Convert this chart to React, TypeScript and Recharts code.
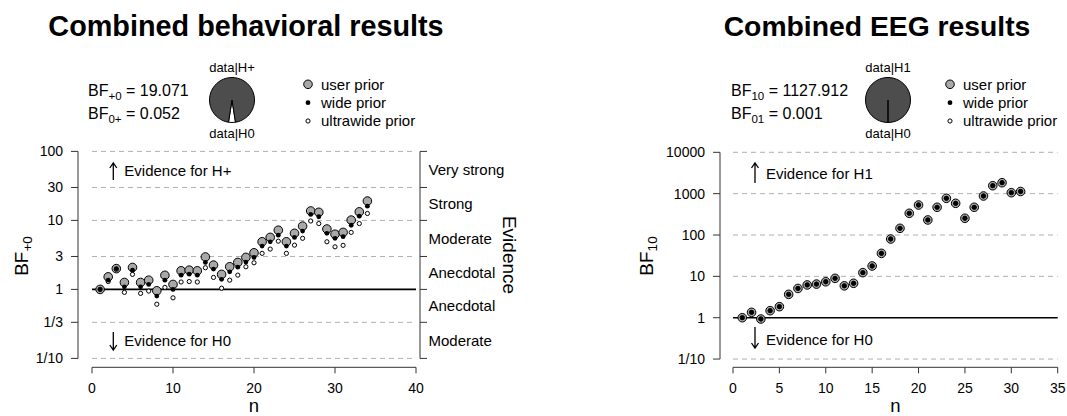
import React from 'react';
import { ScatterChart, Scatter, XAxis, YAxis, ReferenceLine, PieChart, Pie, Cell } from 'recharts';

const FONT = '"Liberation Sans", Arial, Helvetica, sans-serif';

// ---------- Combined behavioral results ----------
const behN = [1,2,3,4,5,6,7,8,9,10,11,12,13,14,15,16,17,18,19,20,21,22,23,24,25,26,27,28,29,30,31,32,33,34];
const behUser = [1.0,1.52,2.0,1.26,2.08,1.26,1.36,0.955,1.6,1.18,1.86,1.9,1.86,2.95,2.25,1.65,2.13,2.46,2.91,3.39,4.9,5.67,7.2,4.9,6.5,8.26,13.7,13.1,7.5,6.3,6.7,10.1,13.3,19.071];
const behWide = [1.0,1.36,2.0,1.09,1.9,1.09,1.18,0.8,1.36,1.0,1.61,1.66,1.61,2.46,1.97,1.4,1.8,2.1,2.49,2.91,4.25,4.9,6.1,4.25,5.67,7.0,12.2,11.3,6.5,5.5,5.8,8.5,11.5,16.1];
const behUltra = [1.0,1.3,1.95,0.905,1.65,0.875,0.945,0.61,1.07,0.755,1.28,1.3,1.28,2.06,1.49,1.04,1.36,1.61,2.13,2.43,3.33,3.84,5.0,3.33,4.38,5.5,9.8,9.0,4.9,4.14,4.35,6.7,9.0,12.6];
const behXTicks = [0,10,20,30,40];
const behYTicks = [0.1, 1/3, 1, 3, 10, 30, 100];
const behYTickLabels = ['1/10','1/3','1','3','10','30','100'];
const behDashed = [0.1, 1/3, 3, 10, 30, 100];
const behBF = '19.071';
const behBFinv = '0.052';
const behPie = [{ name: 'data|H0', value: 1 }, { name: 'data|H+', value: 19.071 }];

const evidenceBounds = [0.1, 1/3, 1, 3, 10, 30, 100];
const evidenceLabels = ['Moderate','Anecdotal','Anecdotal','Moderate','Strong','Very strong'];

// ---------- Combined EEG results (all three priors coincide) ----------
const eegN = [1,2,3,4,5,6,7,8,9,10,11,12,13,14,15,16,17,18,19,20,21,22,23,24,25,26,27,28,29,30,31];
const eegUser = [1.0,1.35,0.93,1.48,1.85,3.67,5.1,6.2,6.5,7.4,8.95,5.9,6.8,12.3,17.8,36,80,145,335,531,231,468,771,584,254,468,877,1556,1841,1054,1127.912];
const eegWide = [1.0,1.35,0.93,1.48,1.85,3.67,5.1,6.2,6.5,7.4,8.95,5.9,6.8,12.3,17.8,36,80,145,335,531,231,468,771,584,254,468,877,1556,1841,1054,1127.912];
const eegUltra = [1.0,1.35,0.93,1.48,1.85,3.67,5.1,6.2,6.5,7.4,8.95,5.9,6.8,12.3,17.8,36,80,145,335,531,231,468,771,584,254,468,877,1556,1841,1054,1127.912];
const eegXTicks = [0,5,10,15,20,25,30,35];
const eegYTicks = [0.1, 1, 10, 100, 1000, 10000];
const eegYTickLabels = ['1/10','1','10','100','1000','10000'];
const eegDashed = [0.1, 10, 100, 1000, 10000];
const eegBF = '1127.912';
const eegBFinv = '0.001';
const eegPie = [{ name: 'data|H0', value: 1 }, { name: 'data|H1', value: 1127.912 }];

const GRAY = '#a8a8a8';
const AXIS = '#333';

const toPts = (n: number[], v: number[]) => n.map((x, i) => ({ n: x, bf: v[i] }));
const labelFor = (ticks: number[], labels: string[]) => (v: number) => {
  const i = ticks.findIndex(t => Math.abs(t - v) <= 1e-6 * Math.max(1, Math.abs(t)));
  return i >= 0 ? labels[i] : '';
};

const GrayDot = (p: any) => <circle cx={p.cx} cy={p.cy} r={4.3} fill={GRAY} stroke="#000" strokeWidth={1} />;
const BlackDot = (p: any) => <circle cx={p.cx} cy={p.cy} r={2.4} fill="#000" />;
const WhiteDot = (p: any) => <circle cx={p.cx} cy={p.cy} r={2.1} fill="#fff" stroke="#000" strokeWidth={1} />;
const NoTick = () => <g />;

type ChartProps = {
  left: number; width: number; top: number; marginLeft: number; marginRight: number;
  xDomain: [number, number]; xTicks: number[]; xMax: number;
  yDomain: [number, number]; yTicks: number[]; yTickLabels: string[];
  dashed: number[]; user: number[]; wide: number[]; ultra: number[]; n: number[];
  evidence: boolean;
};

function SeqChart(p: ChartProps) {
  const H = 416;
  const xAxisH = 40;
  const plotBottom = 367.3;
  const tickStyle = { fontSize: 14, fill: '#000', fontFamily: FONT };
  const evMids = evidenceBounds.slice(1).map((b, i) => Math.sqrt(b * evidenceBounds[i]));
  return (
    <div style={{ position: 'absolute', left: p.left, top: 0 }}>
      <ScatterChart
        width={p.width}
        height={H}
        margin={{ top: p.top, right: p.marginRight, bottom: H - plotBottom - xAxisH, left: p.marginLeft }}
      >
        <XAxis type="number" dataKey="n" domain={p.xDomain} allowDataOverflow ticks={p.xTicks} interval={0}
          axisLine={false} tickLine={{ stroke: AXIS }} tickSize={6} tickMargin={10} height={xAxisH} tick={tickStyle} />
        <YAxis yAxisId="bf" type="number" dataKey="bf" scale="log" domain={p.yDomain} allowDataOverflow
          ticks={p.yTicks} interval={0} tickFormatter={labelFor(p.yTicks, p.yTickLabels)}
          axisLine={false} tickLine={{ stroke: AXIS }} tickSize={7} tickMargin={8} width={60} tick={tickStyle} />
        {p.evidence && (
          <YAxis yAxisId="ev" orientation="right" type="number" scale="log" domain={p.yDomain} allowDataOverflow
            ticks={p.yTicks} interval={0} axisLine={false} tickLine={{ stroke: AXIS }} tickSize={7} width={7} tick={NoTick} />
        )}
        {p.evidence && (
          <YAxis yAxisId="evlab" orientation="right" type="number" scale="log" domain={p.yDomain} allowDataOverflow
            ticks={evMids} interval={0} tickFormatter={labelFor(evMids, evidenceLabels)}
            axisLine={false} tickLine={false} tickSize={0} tickMargin={1.5} width={100}
            tick={{ fontSize: 15, fill: '#000', fontFamily: FONT }} />
        )}
        {p.dashed.map(v => (
          <ReferenceLine key={'d' + v} yAxisId="bf" ifOverflow="visible"
            segment={[{ x: 0, y: v }, { x: p.xMax, y: v }]} stroke="#b0b0b0" strokeWidth={1} strokeDasharray="5 4" />
        ))}
        <ReferenceLine yAxisId="bf" ifOverflow="visible" segment={[{ x: 0, y: 1 }, { x: p.xMax, y: 1 }]} stroke="#000" strokeWidth={1.6} />
        {/* axis lines (R style, detached) */}
        <ReferenceLine yAxisId="bf" ifOverflow="visible"
          segment={[{ x: p.xDomain[0], y: p.yTicks[0] }, { x: p.xDomain[0], y: p.yTicks[p.yTicks.length - 1] }]} stroke={AXIS} strokeWidth={1} />
        <ReferenceLine yAxisId="bf" ifOverflow="visible"
          segment={[{ x: 0, y: p.yDomain[0] }, { x: p.xMax, y: p.yDomain[0] }]} stroke={AXIS} strokeWidth={1} />
        {p.evidence && (
          <ReferenceLine yAxisId="bf" ifOverflow="visible"
            segment={[{ x: p.xDomain[1], y: p.yTicks[0] }, { x: p.xDomain[1], y: p.yTicks[p.yTicks.length - 1] }]} stroke={AXIS} strokeWidth={1} />
        )}
        <Scatter yAxisId="bf" data={toPts(p.n, p.user)} shape={GrayDot} isAnimationActive={false} />
        <Scatter yAxisId="bf" data={toPts(p.n, p.ultra)} shape={WhiteDot} isAnimationActive={false} />
        <Scatter yAxisId="bf" data={toPts(p.n, p.wide)} shape={BlackDot} isAnimationActive={false} />
      </ScatterChart>
    </div>
  );
}

function SmallPie({ cx, cy, data }: { cx: number; cy: number; data: { name: string; value: number }[] }) {
  const S = 56;
  const total = data.reduce((s, d) => s + d.value, 0);
  // H0 wedge centred on the bottom of the pie
  const start = -90 - (180 * data[0].value) / total;
  return (
    <div style={{ position: 'absolute', left: cx - S / 2, top: cy - S / 2 }}>
      <PieChart width={S} height={S} margin={{ top: 0, right: 0, bottom: 0, left: 0 }}>
        <Pie data={data} dataKey="value" cx={S / 2} cy={S / 2} outerRadius={22.5} innerRadius={0}
          startAngle={start} endAngle={start + 360} stroke="#000" strokeWidth={1} isAnimationActive={false}>
          <Cell fill="#ffffff" />
          <Cell fill="#4d4d4d" />
        </Pie>
      </PieChart>
    </div>
  );
}

function BFLine({ x, y, sub, value }: { x: number; y: number; sub: string; value: string }) {
  return (
    <text x={x} y={y} fontSize={16} fontFamily={FONT} fill="#000">
      BF<tspan fontSize={11.5} dy={4}>{sub}</tspan><tspan dy={-4}>{` = ${value}`}</tspan>
    </text>
  );
}

function UpArrow({ x, y1, y2 }: { x: number; y1: number; y2: number }) {
  return <path d={`M${x},${y2} L${x},${y1} M${x - 3.5},${y1 + 5} L${x},${y1} L${x + 3.5},${y1 + 5}`} stroke="#000" strokeWidth={1.3} fill="none" />;
}
function DownArrow({ x, y1, y2 }: { x: number; y1: number; y2: number }) {
  return <path d={`M${x},${y1} L${x},${y2} M${x - 3.5},${y2 - 5} L${x},${y2} L${x + 3.5},${y2 - 5}`} stroke="#000" strokeWidth={1.3} fill="none" />;
}

function Legend({ x }: { x: number }) {
  const rows = [
    { y: 84.3, label: 'user prior', el: <circle cx={x} cy={84.3} r={4.3} fill={GRAY} stroke="#000" strokeWidth={1} /> },
    { y: 102.7, label: 'wide prior', el: <circle cx={x} cy={102.7} r={2.4} fill="#000" /> },
    { y: 121, label: 'ultrawide prior', el: <circle cx={x} cy={121} r={2.1} fill="#fff" stroke="#000" strokeWidth={1} /> },
  ];
  return (
    <g>
      {rows.map(r => (
        <g key={r.label}>
          {r.el}
          <text x={x + 13} y={r.y + 5.2} fontSize={15} fontFamily={FONT} fill="#000">{r.label}</text>
        </g>
      ))}
    </g>
  );
}

export default function App() {
  return (
    <div style={{ position: 'absolute', left: 0, top: 0, width: 1067, height: 416, background: '#fff', overflow: 'hidden', fontFamily: FONT }}>
      <SeqChart
        left={0} width={533} top={151.4} marginLeft={18} marginRight={6}
        xDomain={[-1.7284, 40.4938]} xTicks={behXTicks} xMax={40}
        yDomain={[0.0743, 100]} yTicks={behYTicks} yTickLabels={behYTickLabels}
        dashed={behDashed} n={behN} user={behUser} wide={behWide} ultra={behUltra} evidence={true}
      />
      <SeqChart
        left={533} width={534} top={152.3} marginLeft={127} marginRight={5}
        xDomain={[-1.4013, 35.4635]} xTicks={eegXTicks} xMax={35}
        yDomain={[0.0632, 10000]} yTicks={eegYTicks} yTickLabels={eegYTickLabels}
        dashed={eegDashed} n={eegN} user={eegUser} wide={eegWide} ultra={eegUltra} evidence={false}
      />
      <SmallPie cx={232} cy={100} data={behPie} />
      <SmallPie cx={888} cy={100} data={eegPie} />
      <svg width={1067} height={416} style={{ position: 'absolute', left: 0, top: 0, pointerEvents: 'none' }}>
        {/* titles */}
        <text x={246} y={36} textAnchor="middle" fontSize={28.8} fontWeight="bold" fontFamily={FONT} fill="#000">Combined behavioral results</text>
        <text x={877} y={36} textAnchor="middle" fontSize={28.3} fontWeight="bold" fontFamily={FONT} fill="#000">Combined EEG results</text>

        {/* left header */}
        <BFLine x={88} y={96} sub="+0" value={behBF} />
        <BFLine x={88} y={118.5} sub="0+" value={behBFinv} />
        <text x={232} y={71.5} textAnchor="middle" fontSize={13} fontFamily={FONT} fill="#000">data|H+</text>
        <text x={232} y={137.5} textAnchor="middle" fontSize={13} fontFamily={FONT} fill="#000">data|H0</text>
        <Legend x={308} />

        {/* right header */}
        <BFLine x={731} y={96} sub="10" value={eegBF} />
        <BFLine x={731} y={118.5} sub="01" value={eegBFinv} />
        <text x={888} y={71.5} textAnchor="middle" fontSize={13} fontFamily={FONT} fill="#000">data|H1</text>
        <text x={888} y={137.5} textAnchor="middle" fontSize={13} fontFamily={FONT} fill="#000">data|H0</text>
        <Legend x={950} />

        {/* left annotations */}
        <UpArrow x={113.3} y1={163} y2={180} />
        <text x={124.3} y={176} fontSize={15} fontFamily={FONT} fill="#000">Evidence for H+</text>
        <DownArrow x={113.3} y1={332} y2={350} />
        <text x={124.3} y={346.4} fontSize={15} fontFamily={FONT} fill="#000">Evidence for H0</text>
        <text transform="translate(28,256) rotate(-90)" textAnchor="middle" fontSize={19} fontFamily={FONT} fill="#000">
          BF<tspan fontSize={13.5} dy={4}>+0</tspan>
        </text>
        <text x={254} y={412} textAnchor="middle" fontSize={18.5} fontFamily={FONT} fill="#000">n</text>
        <text transform="translate(503,255) rotate(90)" textAnchor="middle" fontSize={19} fontFamily={FONT} fill="#000">Evidence</text>

        {/* right annotations */}
        <UpArrow x={755} y1={163} y2={183} />
        <text x={766} y={179.4} fontSize={15} fontFamily={FONT} fill="#000">Evidence for H1</text>
        <DownArrow x={755} y1={327} y2={348} />
        <text x={766} y={344.7} fontSize={15} fontFamily={FONT} fill="#000">Evidence for H0</text>
        <text transform="translate(653,256) rotate(-90)" textAnchor="middle" fontSize={19} fontFamily={FONT} fill="#000">
          BF<tspan fontSize={13.5} dy={4}>10</tspan>
        </text>
        <text x={895.5} y={412} textAnchor="middle" fontSize={18.5} fontFamily={FONT} fill="#000">n</text>
      </svg>
    </div>
  );
}
